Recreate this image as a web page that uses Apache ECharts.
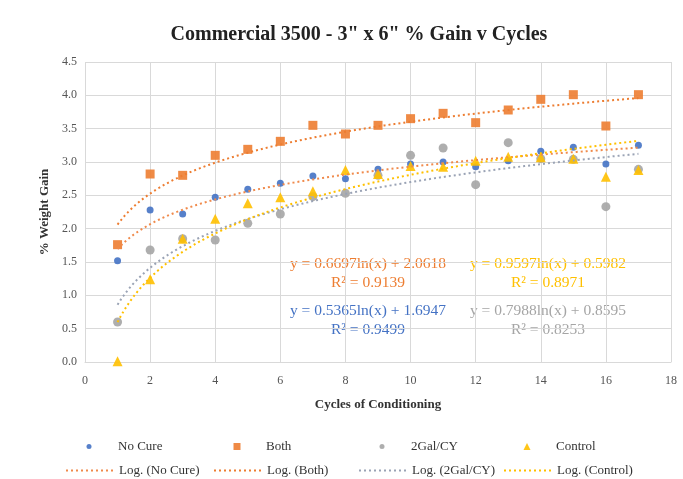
<!DOCTYPE html>
<html>
<head>
<meta charset="utf-8">
<script src="https://cdn.jsdelivr.net/npm/echarts@6/dist/echarts.min.js"></script>
<style>html,body{margin:0;padding:0;background:#fff}#c{width:683px;height:479px}</style>
</head>
<body>
<div id="c"></div>
<script>
var cycles = [1,2,3,4,5,6,7,8,9,10,11,12,13,14,15,16,17];
var noCure = [1.52,2.28,2.22,2.47,2.59,2.68,2.79,2.75,2.89,2.97,3.00,2.93,3.02,3.16,3.22,2.97,3.25];
var both = [1.76,2.82,2.80,3.10,3.19,3.31,3.55,3.42,3.55,3.65,3.73,3.59,3.78,3.94,4.01,3.54,4.01];
var gal = [0.60,1.68,1.85,1.83,2.08,2.22,2.48,2.53,2.80,3.10,3.21,2.66,3.29,3.05,3.04,2.33,2.89];
var control = [0.01,1.24,1.85,2.15,2.38,2.47,2.56,2.88,2.82,2.94,2.93,3.02,3.08,3.07,3.05,2.78,2.88];
var seriesNames = ['No Cure','Both','2Gal/CY','Control'];
var trendNames = ['Log. (No Cure)','Log. (Both)','Log. (2Gal/CY)','Log. (Control)'];
// trendline coefficients as printed on the chart: y = a ln(x) + b
var trendA = [0.5365,0.6697,0.7988,0.9597];
var trendB = [1.6947,2.0618,0.8595,0.5982];
var trendR2 = ['0.9499','0.9139','0.8253','0.8971'];
var xTicks = [0,2,4,6,8,10,12,14,16,18];
var yTicks = [0,0.5,1,1.5,2,2.5,3,3.5,4,4.5];

var serif = '"Liberation Serif","DejaVu Serif",serif';
var colors = ['#4472C4','#ED7D31','#A5A5A5','#FFC000'];
var trendColors = ['#F08A4B','#ED7D31','#9AA3B5','#FFC000'];
var symbols = ['circle','rect','circle','triangle'];
var sizes = [7,9,9,10];
var legendSizes = [5,7,5,7];
var values = [noCure,both,gal,control];

function pts(arr){return cycles.map(function(c,i){return [c,arr[i]];});}
function trend(k){
  var out=[];
  for(var x=1;x<=17.0001;x+=0.1){out.push([x,trendA[k]*Math.log(x)+trendB[k]]);}
  return out;
}

var series=[];
for(var k=0;k<4;k++){
  series.push({name:seriesNames[k],type:'scatter',data:pts(values[k]),symbol:symbols[k],symbolSize:sizes[k],
    itemStyle:{color:colors[k],opacity:0.9},z:2});
}
for(var k=0;k<4;k++){
  series.push({name:trendNames[k],type:'line',data:trend(k),symbol:'none',smooth:false,
    lineStyle:{color:trendColors[k],width:2,type:[2,3]},itemStyle:{color:trendColors[k]},z:3,silent:true});
}

var colX=[60,208,353,498];
var legends=[];
for(var k=0;k<4;k++){
  var s=legendSizes[k];
  legends.push({data:[{name:seriesNames[k],icon:symbols[k]}],left:colX[k]+24-s/2,top:435,itemWidth:s,itemHeight:s,selectedMode:false,
    textStyle:{fontFamily:serif,fontSize:13,color:'#333',padding:[0,0,0,53-(24+s/2)-5]}});
  legends.push({data:[trendNames[k]],left:colX[k],top:459,itemWidth:48,itemHeight:6,selectedMode:false,
    itemStyle:{opacity:0},
    textStyle:{fontFamily:serif,fontSize:13,color:'#333'}});
}

function eqText(k){return 'y = '+trendA[k].toFixed(4)+'ln(x) + '+trendB[k].toFixed(4);}
var eqPos=[[368,310],[368,263],[548,310],[548,263]];
var graphics=[];
for(var k=0;k<4;k++){
  graphics.push({type:'text',style:{text:eqText(k)+'\nR\u00b2 = '+trendR2[k],
    fill:colors[k],font:'15.5px '+serif,textAlign:'center',textVerticalAlign:'top',lineHeight:19},
    position:[eqPos[k][0],eqPos[k][1]-9]});
}

var chart=echarts.init(document.getElementById('c'),null,{renderer:'canvas'});
chart.setOption({
  animation:false,
  backgroundColor:'#fff',
  title:{text:'Commercial 3500 - 3" x 6" % Gain v Cycles',left:354,textAlign:'center',top:20,
    textStyle:{fontFamily:serif,fontSize:20,fontWeight:'bold',color:'#222'}},
  grid:{left:85,right:12,top:62,bottom:117,containLabel:false},
  xAxis:{type:'value',min:xTicks[0],max:xTicks[xTicks.length-1],interval:2,
    name:'Cycles of Conditioning',nameLocation:'middle',nameGap:36,
    nameTextStyle:{fontFamily:serif,fontSize:13,fontWeight:'bold',color:'#333'},
    axisLine:{show:true,lineStyle:{color:'#D9D9D9'}},axisTick:{show:false},
    axisLabel:{fontFamily:serif,fontSize:12,color:'#555',margin:13},
    splitLine:{show:true,lineStyle:{color:'#D9D9D9'}}},
  yAxis:{type:'value',min:yTicks[0],max:yTicks[yTicks.length-1],interval:0.5,
    name:'% Weight Gain',nameLocation:'middle',nameGap:31,
    nameTextStyle:{fontFamily:serif,fontSize:13,fontWeight:'bold',color:'#333'},
    axisLine:{show:false},axisTick:{show:false},
    axisLabel:{fontFamily:serif,fontSize:12,color:'#555',margin:8,formatter:function(v){return v.toFixed(1);}},
    splitLine:{show:true,lineStyle:{color:'#D9D9D9'}}},
  legend:legends,
  graphic:graphics,
  series:series
});
</script>
</body>
</html>
